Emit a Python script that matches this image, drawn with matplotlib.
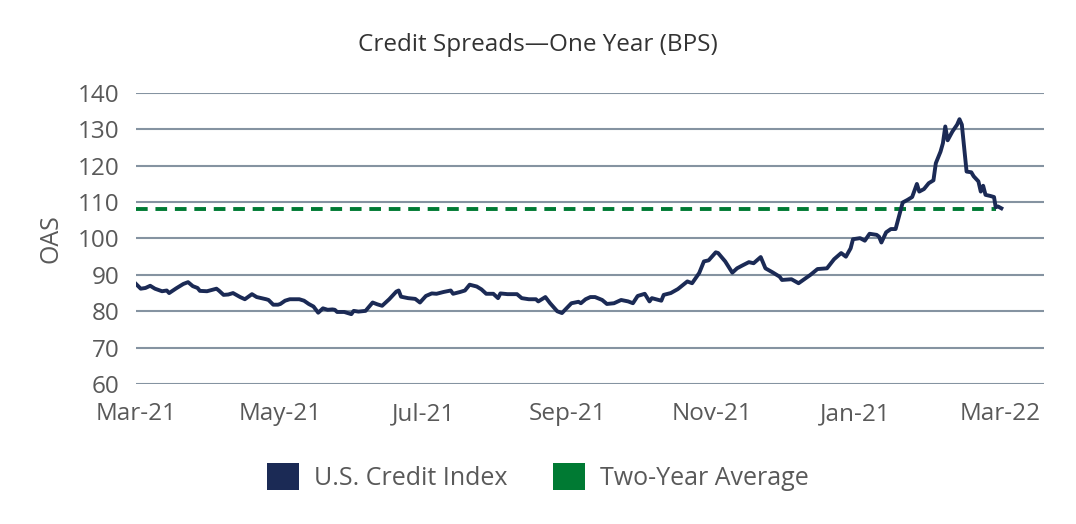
# Credit spreads over one year (OAS, bps) with the two-year average

import numpy as np
import matplotlib.pyplot as plt
from matplotlib.patches import Patch

plt.rcParams['font.family'] = ['Open Sans', 'DejaVu Sans']

# Days since 1 March 2021 and OAS values
days = [0, 2, 4, 6, 8, 11, 13, 14, 17, 20, 22, 24, 26, 27, 30, 34, 35, 37, 39, 41,
        44, 46, 49, 51, 55, 56, 58, 60, 61, 63, 65, 69, 71, 73, 75, 77, 79, 81, 83, 84,
        85, 88, 91, 92, 94, 97, 100, 102, 104, 107, 110, 111, 112, 115, 118, 120, 122.5, 125, 127, 130,
        133, 134, 137, 139, 141, 144, 146, 148, 151, 153, 154, 157, 161, 163, 166, 169, 170, 173, 175, 178,
        180, 184, 187, 188, 190, 192, 194, 197, 199, 202, 205, 208, 210, 212, 215, 217, 218, 222, 223, 226,
        229, 233, 235, 238, 240, 242, 245, 246, 249, 252, 254, 256, 259, 261, 264, 266, 269, 272, 273, 277,
        280, 283, 285, 288, 292, 295, 298, 300, 302, 303, 306, 308, 310, 313, 314, 315, 317, 319, 321, 324,
        326, 328, 330, 331, 333, 335, 337, 338, 340, 341, 342, 343, 345, 347, 348, 349, 351, 353, 354, 356,
        357, 358, 359, 361, 362.6, 363.3, 364.3, 365.7]
oas = [87.5, 86.2, 86.4, 87.0, 86.2, 85.5, 85.7, 85.0, 86.3, 87.5, 88.0, 86.9, 86.4, 85.6, 85.5, 86.2, 85.7, 84.5, 84.6, 85.0,
       83.9, 83.3, 84.7, 83.9, 83.3, 83.1, 81.8, 81.8, 82.0, 82.9, 83.3, 83.3, 82.9, 82.0, 81.3, 79.6, 80.8, 80.4, 80.5, 80.4,
       79.8, 79.8, 79.2, 80.1, 79.9, 80.1, 82.4, 81.9, 81.5, 83.3, 85.4, 85.7, 84.0, 83.6, 83.4, 82.4, 84.2, 84.9, 84.8, 85.3,
       85.7, 84.8, 85.3, 85.7, 87.3, 86.8, 86.0, 84.8, 84.8, 83.6, 84.9, 84.7, 84.7, 83.6, 83.3, 83.3, 82.7, 83.9, 82.2, 80.0,
       79.5, 82.2, 82.6, 82.2, 83.3, 83.9, 83.9, 83.1, 82.0, 82.2, 83.1, 82.7, 82.2, 84.2, 84.8, 82.7, 83.6, 82.9, 84.5, 85.0,
       86.1, 88.2, 87.7, 90.5, 93.7, 94.0, 96.2, 96.0, 93.7, 90.6, 91.8, 92.5, 93.5, 93.2, 94.9, 91.8, 90.7, 89.5, 88.6, 88.8,
       87.7, 89.1, 90.0, 91.6, 91.8, 94.3, 96.0, 95.0, 97.3, 99.8, 100.1, 99.4, 101.3, 101.0, 100.5, 98.9, 101.7, 102.6, 102.6, 109.9,
       110.6, 111.4, 115.0, 112.9, 113.6, 115.2, 116.0, 120.7, 123.9, 126.2, 130.8, 127.0, 129.4, 131.3, 132.8, 131.3, 118.4, 118.2, 117.1, 115.7,
       112.9, 114.5, 112.0, 111.7, 111.4, 108.6, 108.8, 108.3]
two_year_avg = 108
tick_labels = ['Mar-21', 'May-21', 'Jul-21', 'Sep-21', 'Nov-21', 'Jan-21', 'Mar-22']

navy = '#1b2a55'
green = '#007a33'
grey_text = '#595959'

fig = plt.figure(figsize=(10.76, 5.24), dpi=100)
ax = fig.add_axes([0.1264, 0.2672, 0.8436, 0.5553])

ax.set_ylim(60, 140)
ax.set_xlim(0, 383.6)
ax.set_yticks(np.arange(60, 141, 10))
ax.yaxis.grid(True, color='#8593a1', linewidth=1.5)
ax.set_axisbelow(True)

ax.plot([0, 363.5], [two_year_avg, two_year_avg], color=green, linewidth=2.8,
        dashes=(3.0, 2.0), solid_capstyle='butt')
ax.plot(days, oas, color=navy, linewidth=2.8, solid_joinstyle='round')

ax.set_xticks(np.linspace(0, 365, 7))
ax.set_xticklabels(tick_labels)
ax.tick_params(axis='both', length=0, labelsize=17.5, labelcolor=grey_text)
ax.tick_params(axis='y', pad=12)
ax.tick_params(axis='x', pad=13)
for s in ax.spines.values():
    s.set_visible(False)

ax.set_ylabel('OAS', fontsize=18, color=grey_text, labelpad=10)
fig.text(0.5, 1 - 45 / 524, 'Credit Spreads\u2014One Year (BPS)', ha='center', va='center',
         fontsize=17.5, color='#333333')

handles = [Patch(facecolor=navy), Patch(facecolor=green)]
fig.legend(handles, ['U.S. Credit Index', 'Two-Year Average'], loc='center',
           bbox_to_anchor=(0.5, 1 - 477 / 524), ncol=2, frameon=False, fontsize=18,
           handlelength=1.28, handleheight=1.3, handletextpad=0.6, columnspacing=1.8,
           labelcolor=grey_text)

fig.savefig('out.png', dpi=100)
